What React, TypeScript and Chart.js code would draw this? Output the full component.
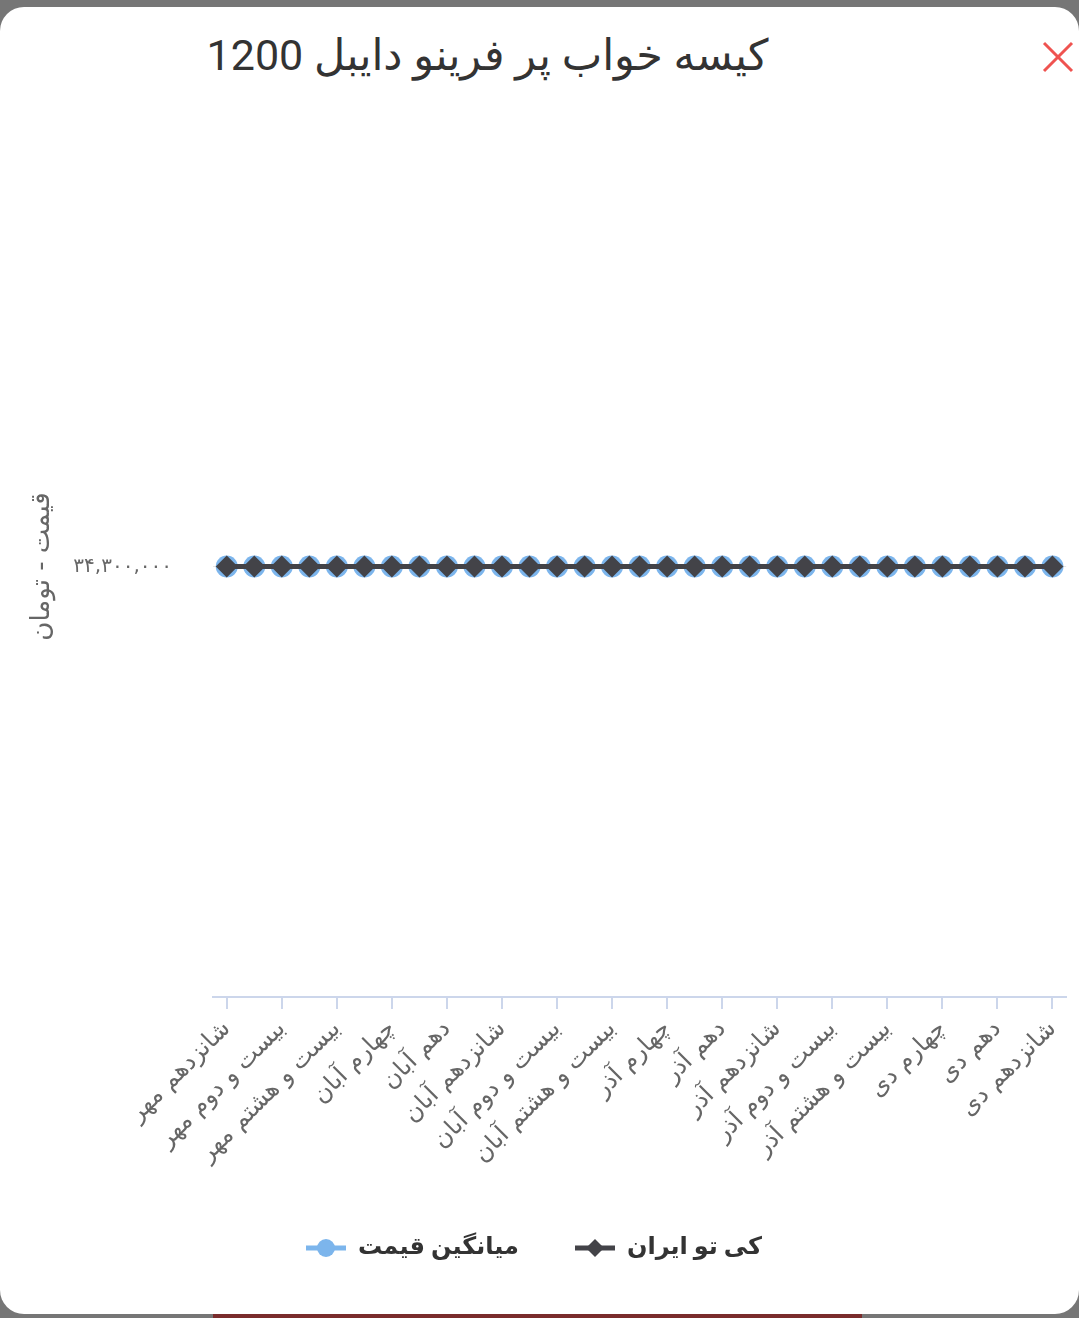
import React, { useEffect, useRef } from 'react';
import { Chart, registerables } from 'chart.js';

Chart.register(...registerables);

const chartTitle = 'کیسه خواب پر فرینو دایبل 1200';
const yAxisTitle = 'قیمت - تومان';
const seriesNames = ['میانگین قیمت', 'کی تو ایران'];
const seriesColors = ['#7cb5ec', '#434348'];

const categories = [
  'شانزدهم مهر', 'نوزدهم مهر', 'بیست و دوم مهر', 'بیست و پنجم مهر', 'بیست و هشتم مهر',
  'یکم آبان', 'چهارم آبان', 'هفتم آبان', 'دهم آبان', 'سیزدهم آبان',
  'شانزدهم آبان', 'نوزدهم آبان', 'بیست و دوم آبان', 'بیست و پنجم آبان', 'بیست و هشتم آبان',
  'یکم آذر', 'چهارم آذر', 'هفتم آذر', 'دهم آذر', 'سیزدهم آذر',
  'شانزدهم آذر', 'نوزدهم آذر', 'بیست و دوم آذر', 'بیست و پنجم آذر', 'بیست و هشتم آذر',
  'یکم دی', 'چهارم دی', 'هفتم دی', 'دهم دی', 'سیزدهم دی', 'شانزدهم دی',
];

const averagePrice = [
  34300000, 34300000, 34300000, 34300000, 34300000, 34300000, 34300000, 34300000,
  34300000, 34300000, 34300000, 34300000, 34300000, 34300000, 34300000, 34300000,
  34300000, 34300000, 34300000, 34300000, 34300000, 34300000, 34300000, 34300000,
  34300000, 34300000, 34300000, 34300000, 34300000, 34300000, 34300000,
];

const kitoIran = [
  34300000, 34300000, 34300000, 34300000, 34300000, 34300000, 34300000, 34300000,
  34300000, 34300000, 34300000, 34300000, 34300000, 34300000, 34300000, 34300000,
  34300000, 34300000, 34300000, 34300000, 34300000, 34300000, 34300000, 34300000,
  34300000, 34300000, 34300000, 34300000, 34300000, 34300000, 34300000,
];

const yTickValues = [34300000];
const yMin = 34200000;
const yMax = 34400000;

const toPersianDigits = (s: string) => s.replace(/\d/g, (d) => '۰۱۲۳۴۵۶۷۸۹'[Number(d)]);

function makeLegendSymbol(color: string, shape: 'circle' | 'diamond'): HTMLCanvasElement {
  const c = document.createElement('canvas');
  c.width = 40;
  c.height = 24;
  const ctx = c.getContext('2d')!;
  ctx.strokeStyle = color;
  ctx.lineWidth = 5;
  ctx.beginPath();
  ctx.moveTo(0, 12);
  ctx.lineTo(40, 12);
  ctx.stroke();
  ctx.fillStyle = color;
  ctx.beginPath();
  if (shape === 'circle') {
    ctx.arc(20, 12, 9, 0, Math.PI * 2);
  } else {
    ctx.moveTo(20, 3);
    ctx.lineTo(29, 12);
    ctx.lineTo(20, 21);
    ctx.lineTo(11, 12);
    ctx.closePath();
  }
  ctx.fill();
  return c;
}

export default function App() {
  const canvasRef = useRef<HTMLCanvasElement | null>(null);

  useEffect(() => {
    if (!canvasRef.current) return;
    const symbols = [makeLegendSymbol(seriesColors[0], 'circle'), makeLegendSymbol(seriesColors[1], 'diamond')];
    const chart = new Chart(canvasRef.current, {
      type: 'line',
      data: {
        labels: categories,
        datasets: [
          {
            label: seriesNames[0],
            data: averagePrice,
            borderColor: seriesColors[0],
            backgroundColor: seriesColors[0],
            borderWidth: 5,
            pointStyle: 'circle',
            pointRadius: 11,
            pointBorderWidth: 0,
            pointBackgroundColor: seriesColors[0],
            order: 2,
          },
          {
            label: seriesNames[1],
            data: kitoIran,
            borderColor: seriesColors[1],
            backgroundColor: seriesColors[1],
            borderWidth: 5,
            pointStyle: 'rectRot',
            pointRadius: 11,
            pointBorderWidth: 0,
            pointBackgroundColor: seriesColors[1],
            order: 1,
          },
        ],
      },
      options: {
        responsive: false,
        animation: false,
        devicePixelRatio: 1,
        layout: { padding: { left: 0, right: 11, top: 136, bottom: 48 } },
        plugins: {
          title: { display: false },
          tooltip: { enabled: false },
          legend: {
            display: true,
            position: 'bottom',
            labels: {
              usePointStyle: true,
              pointStyleWidth: 40,
              boxHeight: 24,
              padding: 56,
              color: '#333333',
              font: { family: "Roboto, 'DejaVu Sans', sans-serif", size: 24, weight: 'bold' },
              sort: (a: any, b: any) => a.datasetIndex - b.datasetIndex,
              generateLabels: (ch: any) => {
                const items = Chart.defaults.plugins.legend.labels.generateLabels(ch);
                return items.map((it: any) => ({ ...it, pointStyle: symbols[it.datasetIndex] }));
              },
            },
          },
        },
        scales: {
          x: {
            type: 'category',
            offset: true,
            grid: {
              display: true,
              drawOnChartArea: false,
              drawTicks: true,
              tickLength: 12,
              color: '#ccd6eb',
              lineWidth: 2,
              offset: false,
            },
            border: { display: true, color: '#ccd6eb', width: 2 },
            ticks: {
              autoSkip: false,
              maxRotation: 45,
              minRotation: 45,
              padding: 6,
              color: '#666666',
              font: { family: "'DejaVu Sans', sans-serif", size: 24 },
              callback: function (this: any, value: any, index: number) {
                return index % 2 === 0 ? categories[index] : null;
              },
            },
            afterFit: (scale: any) => {
              scale.height = 183;
            },
          },
          y: {
            type: 'linear',
            min: yMin,
            max: yMax,
            grid: { color: '#e6e6e6', drawTicks: false, lineWidth: 1 },
            border: { display: false },
            afterBuildTicks: (scale: any) => {
              scale.ticks = yTickValues.map((v) => ({ value: v }));
            },
            ticks: {
              padding: 41,
              color: '#666666',
              font: { family: "'DejaVu Sans', sans-serif", size: 20 },
              callback: (value: any) => toPersianDigits(Number(value).toLocaleString('en-US')),
            },
            title: {
              display: true,
              text: yAxisTitle,
              color: '#666666',
              font: { family: "'DejaVu Sans', sans-serif", size: 26 },
              padding: { top: 27, bottom: 0 },
            },
            afterFit: (scale: any) => {
              scale.width = 213;
            },
          },
        },
      },
    });
    return () => chart.destroy();
  }, []);

  return (
    <div style={{ position: 'fixed', left: 0, top: 0, width: 1079, height: 1318, background: '#767676', overflow: 'hidden' }}>
      <div style={{ position: 'absolute', left: 213, top: 1313, width: 649, height: 5, background: '#7a2c2c' }} />
      <div style={{ position: 'absolute', left: 0, top: 7, width: 1079, height: 1307, background: '#ffffff', borderRadius: 24 }} />
      <div
        style={{
          position: 'absolute', left: 0, top: 25, width: 975, textAlign: 'center', direction: 'rtl',
          fontFamily: "Roboto, 'DejaVu Sans', sans-serif", fontSize: 43, color: '#333333', lineHeight: '60px',
        }}
      >
        {chartTitle}
      </div>
      <svg style={{ position: 'absolute', left: 1040, top: 40 }} width={36} height={36}>
        <line x1={4} y1={3} x2={32} y2={31} stroke="#ef5350" strokeWidth={3} />
        <line x1={32} y1={3} x2={4} y2={31} stroke="#ef5350" strokeWidth={3} />
      </svg>
      <canvas ref={canvasRef} width={1079} height={1318} style={{ position: 'absolute', left: 0, top: 0 }} />
    </div>
  );
}
